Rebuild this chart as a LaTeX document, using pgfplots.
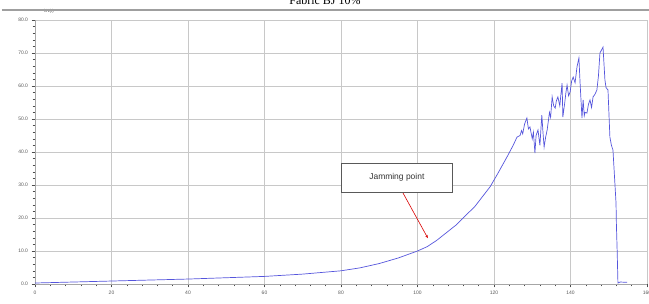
\documentclass[border=0pt]{standalone}
\usepackage{fontspec}
\setmainfont{Liberation Sans}
\newfontfamily\titlefont{Liberation Serif}
\usepackage{pgfplots}
\pgfplotsset{compat=1.18}
\usetikzlibrary{arrows.meta}
\definecolor{curve}{RGB}{85,85,220}
\definecolor{gridc}{RGB}{200,200,200}
\begin{document}
\begin{tikzpicture}
\path[use as bounding box] (-35bp,-20bp) rectangle (614bp,284bp);
\begin{axis}[
  at={(0,0)}, anchor=south west,
  scale only axis, width=612bp, height=264bp,
  xmin=0, xmax=160, ymin=0, ymax=80,
  xtick={0,20,...,160}, ytick={0,10,...,80},
  minor x tick num=4, minor y tick num=4,
  grid=major, major grid style={gridc, line width=0.6bp},
  axis line style={gray!70, line width=0.6bp},
  axis x line*=bottom, axis y line*=left,
  tick style={gray!60!black, line width=0.5bp},
  major tick length=3.5bp, minor tick length=2.5bp,
  tick align=outside,
  ticklabel style={font=\fontsize{5}{6}\selectfont, text=gray!70!black},
  /pgf/number format/assume math mode=true,
  yticklabel style={/pgf/number format/.cd, fixed, fixed zerofill, precision=1},
  xticklabel style={/pgf/number format/.cd, fixed, precision=0},
  clip=false,
]
\addplot[curve, line width=0.7bp] coordinates {
(0,0.3) (10,0.6) (20,0.9) (30,1.2) (40,1.5) (50,1.9) (60,2.3) (70,3.0) (80,4.0)
(85,4.9) (90,6.2) (95,7.9) (100,10.0) (102.5,11.3) (105,13.2) (110,17.8) (115,23.5)
(119,29.5) (121,33.5) (123.4,38.5) (125,42) (126,44.5) (126.8,45.0) (127.2,46.5) (127.5,45.5)
(128.0,48.5) (128.6,50.3) (129.0,47.0) (129.4,47.6) (130.0,44.0) (130.3,46.0) (130.7,39.7) (131.0,45.0) (131.5,46.7)
(132.0,42.0) (132.5,51.2) (132.8,46.0) (133.1,41.5) (133.5,44.5) (133.9,46.7) (134.5,52.0) (134.8,50.5) (135.2,56.7)
(135.6,54.0) (136.0,53.3) (136.3,55.5) (136.7,56.7) (137.2,54.0) (137.5,57.5) (137.8,60.9) (138.0,50.6) (138.5,55.0)
(138.8,58.0) (139.1,60.3) (139.5,57.0) (139.9,58.2) (140.3,61.5) (140.7,62.7) (141.2,61.0) (141.7,65.8) (142.2,68.5)
(142.5,61.0) (142.7,56.7) (143.0,50.3) (143.3,55.8) (143.6,51.0) (143.8,52.0) (144.3,51.8) (144.7,54.5)
(145.1,55.8) (145.5,53.5) (145.9,56.7) (146.4,57.5) (146.9,58.8) (147.3,63.0)
(147.7,70.0) (148.5,71.8) (149.0,61.8) (149.3,59.5) (149.8,58.8) (150.3,44.5)
(150.7,42.0) (151.1,40.6) (151.6,30.6) (151.9,24.5) (152.0,18) (152.2,10)
(152.4,0.3) (153,0.6) (154.8,0.5)
};
\draw[red!85!black, line width=0.6bp, -{Stealth[length=3bp,width=2.5bp]}] (axis cs:96.2,27.6) -- (axis cs:102.7,13.9);
\node[draw=gray!70!black, line width=0.7bp, fill=white, minimum width=110bp, minimum height=29bp,
      font=\fontsize{8.5}{10}\selectfont, text=gray!40!black] at (axis cs:94.6,32.3) {Jamming point};
\node[font=\fontsize{4.5}{5}\selectfont, text=gray!70!black, anchor=west] at (axis cs:1.5,82.5) {kN(t)};
\end{axis}
\draw[gray!75, line width=2.5bp] (-33bp,274bp) -- (614bp,274bp);
\node[font=\titlefont\fontsize{12}{14}\selectfont, anchor=base] at (290bp,279bp) {Fabric BJ 10\%};
\end{tikzpicture}
\end{document}
